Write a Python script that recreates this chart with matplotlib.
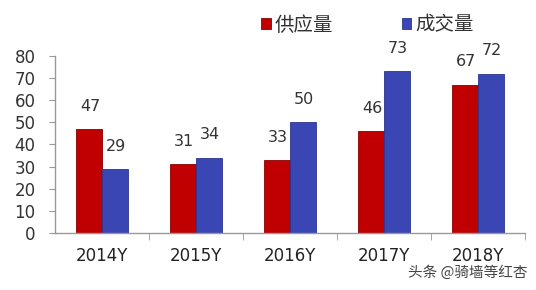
import matplotlib
matplotlib.use("Agg")
import matplotlib.pyplot as plt
import numpy as np

plt.rcParams['font.family'] = ['DejaVu Sans', 'Noto Sans CJK SC']

categories = ["2014Y", "2015Y", "2016Y", "2017Y", "2018Y"]
supply = [47, 31, 33, 46, 67]
deal = [29, 34, 50, 73, 72]
series_names = ["供应量", "成交量"]

red = "#C00000"
blue = "#3A46B4"

fig = plt.figure(figsize=(5.36, 2.9), dpi=100)
ax = fig.add_axes([0.1026, 0.1966, 0.877, 0.6104])

x = np.arange(len(categories))
w = 0.277
b1 = ax.bar(x - w/2, supply, w, color=red, edgecolor="#8B0000", linewidth=0.6, label=series_names[0])
b2 = ax.bar(x + w/2, deal, w, color=blue, edgecolor="#2A3590", linewidth=0.6, label=series_names[1])

for bars, vals in ((b1, supply), (b2, deal)):
    for rect, v in zip(bars, vals):
        ax.text(rect.get_x() + rect.get_width()/2 + 0.01, v + 10.3, str(v), ha="center", va="center",
                fontsize=11.5, color="#333333", family=['DejaVu Sans'])

ax.set_xlim(-0.5, len(categories) - 0.5)
ax.set_ylim(0, 80)
ax.set_yticks(range(0, 81, 10))
ax.set_yticklabels([str(v) for v in range(0, 81, 10)], fontsize=12, color="#333333")
ax.set_xticks(x)
ax.set_xticklabels(categories, fontsize=12, color="#222222")
ax.set_xticks(np.arange(0.5, len(categories), 1), minor=True)
ax.tick_params(axis="x", which="major", length=0, pad=10)
ax.tick_params(axis="x", which="minor", length=5, color="#999999")
ax.tick_params(axis="y", length=4, color="#999999", pad=10)

for s in ["top", "right"]:
    ax.spines[s].set_visible(False)
for s in ["left", "bottom"]:
    ax.spines[s].set_color("#999999")
    ax.spines[s].set_linewidth(1.0)

leg = fig.legend(handles=[b1, b2], labels=series_names, loc="upper left",
                 bbox_to_anchor=(0.455, 1.01), ncol=2, frameon=False,
                 prop={'family': ['Noto Sans CJK SC'], 'size': 14},
                 handlelength=0.5, handleheight=0.5, handletextpad=0.2,
                 columnspacing=3.5)
for t in leg.get_texts():
    t.set_color("#333333")

fig.text(0.985, 0.06, "头条 @骑墙等红杏", ha="right", va="center", fontsize=10.5,
         color="#444444", family=['Noto Sans CJK SC'])

fig.savefig("out.png", dpi=100)
